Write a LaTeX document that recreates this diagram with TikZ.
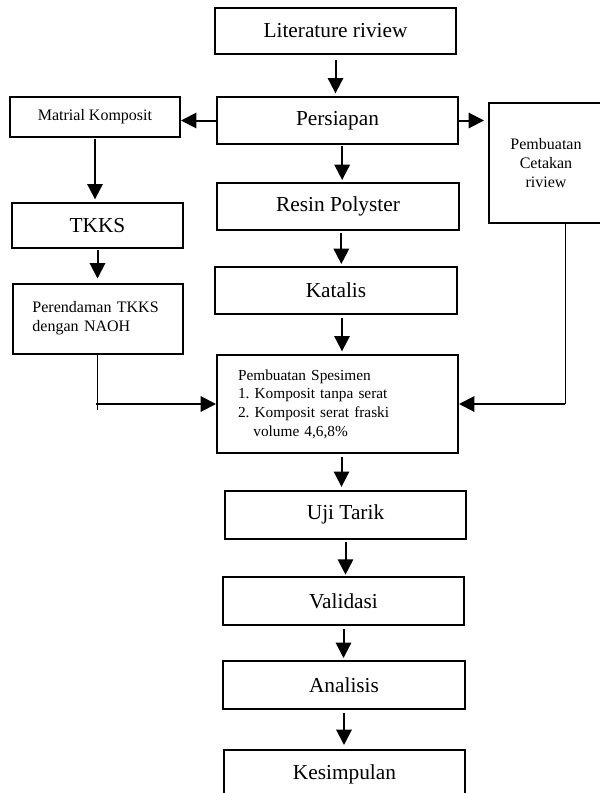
\documentclass[tikz,border=0pt]{standalone}
\usepackage{fontspec}
\setmainfont{Liberation Serif}
\frenchspacing
\usetikzlibrary{arrows.meta}
\tikzset{
  box/.style={draw,line width=1.5pt,minimum width=180.75pt,minimum height=36pt,inner sep=0pt,font=\fontsize{16}{19}\selectfont},
  sidebox/.style={draw,line width=1.5pt,minimum width=127.5pt,inner sep=0pt,font=\fontsize{12}{14}\selectfont,align=center},
  arr/.style={line width=1.5pt,-{Triangle[width=11.5pt,length=11.5pt]}},
}
\begin{document}
\begin{tikzpicture}[x=0.75pt,y=-0.75pt]
\useasboundingbox (0,0) rectangle (600,793);
% middle column
\node[box,minimum height=34.5pt] (lit) at (335.5,31) {Literature riview};
\node[box,minimum width=180.75pt,minimum height=35.25pt] (prep) at (337.5,120.5) {Persiapan};
\node[box,minimum width=181.5pt,minimum height=35.25pt] (resin) at (338,206.5) {Resin Polyster};
\node[box,minimum width=181.5pt,minimum height=35.25pt] (kat) at (336,290.5) {Katalis};
\node[sidebox,minimum width=180.75pt,minimum height=73.5pt,text width=149.25pt,align=left,font=\fontsize{11.5}{14}\selectfont] (spes) at (337.5,404)
  {Pembuatan Spesimen\\1. Komposit tanpa serat\\2. Komposit serat fraski\\\hspace*{1em}volume 4,6,8\%};
\node[box] (uji) at (345.5,514.5) {Uji Tarik};
\node[box] (valid) at (343.5,601) {Validasi};
\node[box,minimum width=181.5pt] (anal) at (344,685) {Analisis};
\node[box] (kes) at (344.5,774) {Kesimpulan};
% left column
\node[sidebox,minimum height=30pt] (mat) at (95,117) {Matrial Komposit};
\node[box,minimum width=128.25pt,minimum height=33.75pt] (tkks) at (97.5,225.5) {TKKS};
\node[sidebox,minimum height=52.5pt,text width=97.5pt,align=left] (rendam) at (97.5,318.5) {Perendaman TKKS\\dengan NAOH};
% right column
\node[sidebox,minimum width=85.5pt,minimum height=90pt] (cetak) at (546,163) {Pembuatan\\Cetakan\\riview};
%
\draw[arr,shorten <=3.5pt,shorten >=2pt] (lit.south) -- (lit.south |- prep.north);
\draw[arr] (prep.west) -- (prep.west -| mat.east);
\draw[arr,shorten >=3pt] (prep.east) -- (prep.east -| cetak.west);
\draw[arr,shorten <=1pt,shorten >=1.5pt] ([xshift=3.5pt]prep.south) -- ([xshift=3.5pt]prep.south |- resin.north);
\draw[arr,shorten <=1.5pt,shorten >=1.5pt] ([xshift=2.5pt]resin.south) -- ([xshift=2.5pt]resin.south |- kat.north);
\draw[arr,shorten <=2pt,shorten >=2pt] ([xshift=4.5pt]kat.south) -- ([xshift=4.5pt]kat.south |- spes.north);
\draw[arr,shorten <=2pt,shorten >=2pt] ([xshift=3pt]spes.south) -- ([xshift=3pt]spes.south |- uji.north);
\draw[arr,shorten <=2pt,shorten >=1pt] (uji.south) -- (uji.south |- valid.north);
\draw[arr,shorten <=2pt,shorten >=1.5pt] (valid.south) -- (valid.south |- anal.north);
\draw[arr,shorten <=2pt,shorten >=3pt] (anal.south) -- (anal.south |- kes.north);
%
\draw[arr,shorten <=1pt,shorten >=2pt] (mat.south) -- (mat.south |- tkks.north);
\draw[arr,shorten <=1pt,shorten >=3pt] (tkks.south) -- (tkks.south |- rendam.north);
\coordinate (jl) at (rendam.south |- spes.west);
\draw[line width=0.75pt] (rendam.south) -- ([yshift=-4.5pt]jl);
\draw[arr] ([xshift=-1.5pt]jl) -- (spes.west);
%
\coordinate (jr) at ([xshift=14.5pt]cetak.south);
\draw[line width=0.9pt] (jr) -- (jr |- spes.east);
\draw[arr] (jr |- spes.east) -- (spes.east);
\end{tikzpicture}
\end{document}
